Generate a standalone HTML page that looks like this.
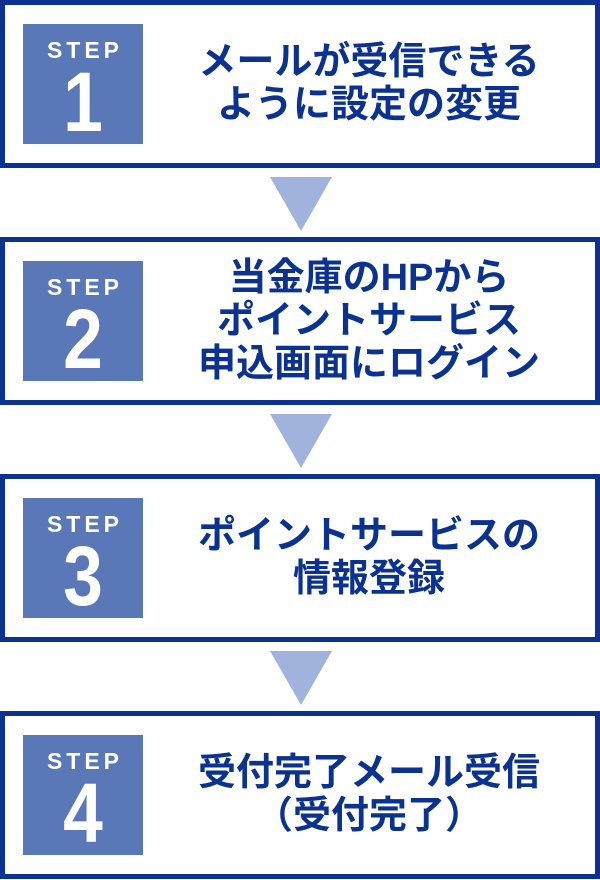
<!DOCTYPE html>
<html><head><meta charset="utf-8"><style>
body{margin:0;width:600px;height:880px;background:#fff;position:relative;font-family:"Liberation Sans","Noto Sans CJK JP",sans-serif;overflow:hidden}
.box{position:absolute;left:0;width:600px;height:168px;box-sizing:border-box;border:5px solid #0b3290;background:#fff}
.sq{position:absolute;left:18px;top:19px;width:120px;height:120px;background:#5a78b8;color:#fff;text-align:center}
.sq .s{font-size:23px;font-weight:bold;letter-spacing:4px;margin-top:12px;line-height:28px;padding-left:4px}
.sq .n{font-size:84px;font-weight:bold;line-height:76px;transform:scaleX(0.85)}
.t{position:absolute;left:160px;right:22px;top:0;bottom:0;display:flex;align-items:center;justify-content:center;text-align:center;color:#0b3290;font-size:38px;font-weight:bold;line-height:43px;white-space:nowrap}
.tri{position:absolute;left:270px;width:0;height:0;border-left:31px solid transparent;border-right:31px solid transparent;border-top:54px solid #a1b3dc}
</style></head><body>
<div class="box" style="top:0"><div class="sq"><div class="s">STEP</div><div class="n">1</div></div><div class="t">メールが受信できる<br>ように設定の変更</div></div>
<div class="tri" style="top:177px"></div>
<div class="box" style="top:237px"><div class="sq"><div class="s">STEP</div><div class="n">2</div></div><div class="t">当金庫のHPから<br>ポイントサービス<br>申込画面にログイン</div></div>
<div class="tri" style="top:414px"></div>
<div class="box" style="top:474px"><div class="sq"><div class="s">STEP</div><div class="n">3</div></div><div class="t">ポイントサービスの<br>情報登録</div></div>
<div class="tri" style="top:651px"></div>
<div class="box" style="top:711px"><div class="sq"><div class="s">STEP</div><div class="n">4</div></div><div class="t">受付完了メール受信<br>（受付完了）</div></div>
</body></html>
